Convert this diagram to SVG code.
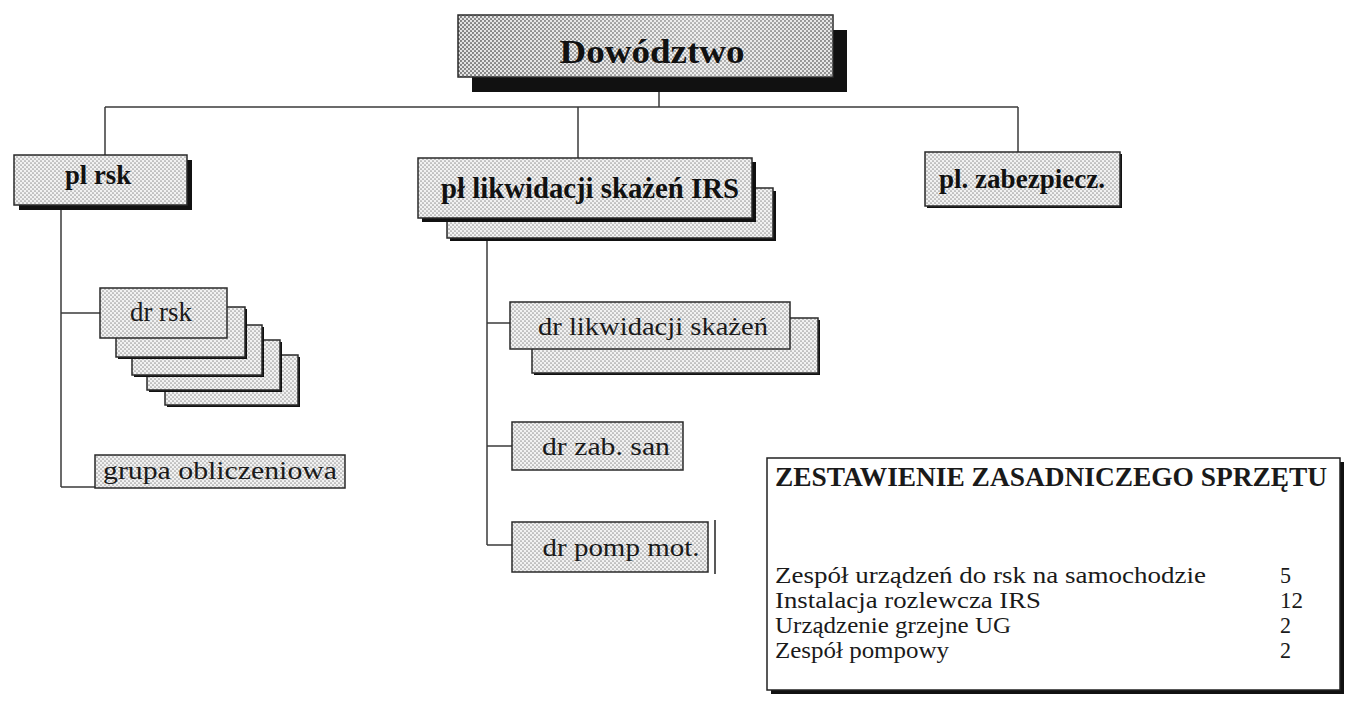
<svg xmlns="http://www.w3.org/2000/svg" width="1356" height="708" viewBox="0 0 1356 708">
<defs>
<pattern id="ht" width="4" height="4" patternUnits="userSpaceOnUse">
<rect width="4" height="4" fill="#f2f2f2"/>
<circle cx="1" cy="1" r="0.85" fill="#999"/>
<circle cx="3" cy="3" r="0.85" fill="#999"/>
</pattern>
<pattern id="htd" width="4" height="4" patternUnits="userSpaceOnUse">
<rect width="4" height="4" fill="#e4e4e4"/>
<circle cx="1" cy="1" r="1.05" fill="#777"/>
<circle cx="3" cy="3" r="1.05" fill="#777"/>
</pattern>
<linearGradient id="fadeR" x1="0" y1="0" x2="1" y2="0">
<stop offset="0" stop-color="#fff" stop-opacity="0"/>
<stop offset="0.65" stop-color="#fff" stop-opacity="0.4"/>
<stop offset="1" stop-color="#fff" stop-opacity="0.1"/>
</linearGradient>
</defs>
<style>
.box{fill:url(#ht);stroke:#2a2a2a;stroke-width:1.5}
.sh{fill:#111}
.bl{font-family:"Liberation Serif","Times New Roman",serif;font-weight:bold;fill:#111;text-anchor:middle}
.rg{font-family:"Liberation Serif","Times New Roman",serif;fill:#1a1a1a;text-anchor:middle}
.conn line{stroke:#3a3a3a;stroke-width:1.5}
.lg{font-family:"Liberation Serif","Times New Roman",serif;fill:#1a1a1a}
</style>
<rect width="1356" height="708" fill="#fff"/>

<g id="connectors" class="conn">
<line x1="659" y1="92" x2="659" y2="107"/>
<line x1="105" y1="107" x2="1018" y2="107"/>
<line x1="105" y1="107" x2="105" y2="155"/>
<line x1="578" y1="107" x2="578" y2="158"/>
<line x1="1018" y1="107" x2="1018" y2="152"/>
<line x1="61" y1="210" x2="61" y2="487"/>
<line x1="61" y1="313" x2="100" y2="313"/>
<line x1="61" y1="487" x2="95" y2="487"/>
<line x1="487" y1="238" x2="487" y2="545"/>
<line x1="487" y1="323" x2="510" y2="323"/>
<line x1="487" y1="446" x2="512" y2="446"/>
<line x1="487" y1="545" x2="512" y2="545"/>
</g>

<g id="node-dowodztwo">
<rect class="sh" x="472" y="30" width="375" height="62"/>
<rect class="box" x="458" y="15" width="375" height="62" style="fill:url(#htd)"/>
<rect x="458" y="15" width="375" height="62" fill="url(#fadeR)"/>
<text class="bl" x="652" y="63" font-size="34" textLength="185" lengthAdjust="spacingAndGlyphs">Dowództwo</text>
</g>

<g id="node-pl-rsk">
<rect class="sh" x="19" y="160" width="173" height="50"/>
<rect class="box" x="14" y="155" width="173" height="50"/>
<text class="bl" x="98" y="184" font-size="28" textLength="66" lengthAdjust="spacingAndGlyphs">pl rsk</text>
</g>

<g id="node-pl-likwidacji">
<rect class="sh" x="450" y="191" width="326" height="50"/>
<rect class="box" x="447" y="188" width="326" height="50"/>
<rect class="sh" x="422" y="162" width="334" height="60"/>
<rect class="box" x="418" y="158" width="334" height="60"/>
<text class="bl" x="590" y="198" font-size="29" textLength="298" lengthAdjust="spacingAndGlyphs">pł likwidacji skażeń IRS</text>
</g>

<g id="node-pl-zabezpiecz">
<rect class="sh" x="927" y="154" width="195" height="54"/>
<rect class="box" x="925" y="152" width="195" height="54"/>
<text class="bl" x="1022" y="188" font-size="27" textLength="166" lengthAdjust="spacingAndGlyphs">pl. zabezpiecz.</text>
</g>

<g id="node-dr-rsk">
<rect class="sh" x="167" y="357" width="133" height="50"/>
<rect class="box" x="165" y="355" width="133" height="50"/>
<rect class="sh" x="149" y="342" width="133" height="50"/>
<rect class="box" x="147" y="340" width="133" height="50"/>
<rect class="sh" x="134" y="327" width="130" height="50"/>
<rect class="box" x="132" y="325" width="130" height="50"/>
<rect class="sh" x="118" y="309" width="129" height="50"/>
<rect class="box" x="116" y="307" width="129" height="50"/>
<rect class="box" x="100" y="288" width="127" height="50"/>
<text class="rg" x="161" y="321" font-size="27" textLength="62" lengthAdjust="spacingAndGlyphs">dr rsk</text>
</g>

<g id="node-grupa">
<rect class="box" x="95" y="455" width="250" height="33"/>
<text class="rg" x="220" y="479" font-size="26" textLength="234" lengthAdjust="spacingAndGlyphs">grupa obliczeniowa</text>
</g>

<g id="node-dr-likwidacji">
<rect class="sh" x="534" y="320" width="286" height="55"/>
<rect class="box" x="532" y="318" width="286" height="55"/>
<rect class="box" x="510" y="302" width="280" height="47"/>
<text class="rg" x="653" y="335" font-size="26" textLength="230" lengthAdjust="spacingAndGlyphs">dr likwidacji skażeń</text>
</g>

<g id="node-dr-zab-san">
<rect class="box" x="512" y="422" width="171" height="48"/>
<text class="rg" x="606" y="455" font-size="26" textLength="128" lengthAdjust="spacingAndGlyphs">dr zab. san</text>
</g>

<g id="node-dr-pomp-mot">
<rect class="box" x="512" y="522" width="196" height="50"/>
<line x1="715" y1="520" x2="715" y2="574" stroke="#222" stroke-width="1.5"/>
<text class="rg" x="621" y="556" font-size="26" textLength="157" lengthAdjust="spacingAndGlyphs">dr pomp mot.</text>
</g>

<g id="legend">
<rect x="771" y="462" width="573" height="232" fill="#111"/>
<rect x="767" y="458" width="573" height="232" fill="#fff" stroke="#222" stroke-width="1.5"/>
<text class="lg" x="775" y="486" font-size="28" font-weight="bold" textLength="552" lengthAdjust="spacingAndGlyphs">ZESTAWIENIE ZASADNICZEGO SPRZĘTU</text>
<text class="lg" x="775" y="583" font-size="23" textLength="431" lengthAdjust="spacingAndGlyphs">Zespół urządzeń do rsk na samochodzie</text>
<text class="lg" x="775" y="608" font-size="23" textLength="266" lengthAdjust="spacingAndGlyphs">Instalacja rozlewcza IRS</text>
<text class="lg" x="775" y="633" font-size="23" textLength="236" lengthAdjust="spacingAndGlyphs">Urządzenie grzejne UG</text>
<text class="lg" x="775" y="658" font-size="23" textLength="174" lengthAdjust="spacingAndGlyphs">Zespół pompowy</text>
<text class="lg" x="1280" y="583" font-size="23" textLength="11" lengthAdjust="spacingAndGlyphs">5</text>
<text class="lg" x="1280" y="608" font-size="23" textLength="23" lengthAdjust="spacingAndGlyphs">12</text>
<text class="lg" x="1280" y="633" font-size="23" textLength="11" lengthAdjust="spacingAndGlyphs">2</text>
<text class="lg" x="1280" y="658" font-size="23" textLength="11" lengthAdjust="spacingAndGlyphs">2</text>
</g>
</svg>
